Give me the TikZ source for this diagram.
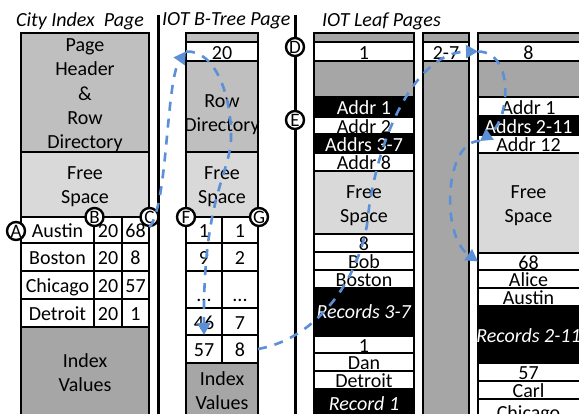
\documentclass[tikz,border=0pt]{standalone}
\usepackage{fontspec}
\setmainfont{Carlito}
\usetikzlibrary{arrows.meta}
\definecolor{hdr}{HTML}{BFBFBF}
\definecolor{dark}{HTML}{A6A6A6}
\definecolor{free}{HTML}{D9D9D9}
\definecolor{flow}{HTML}{5B8FD6}
\tikzset{
  cellbase/.style={draw=black,line width=2.7pt,inner sep=0pt,outer sep=0pt,anchor=north west,align=center,font=\fontsize{20}{24.3}\selectfont},
  wht/.style={cellbase,fill=white},
  blk/.style={cellbase,fill=black,text=white},
  hd/.style={cellbase,fill=hdr},
  dk/.style={cellbase,fill=dark},
  fr/.style={cellbase,fill=free},
  marker/.style={circle,draw=black,fill=white,line width=2.4pt,minimum size=18pt,inner sep=0pt,font=\fontsize{19}{19}\selectfont},
  pagetitle/.style={anchor=west,inner sep=0pt,font=\fontsize{20}{22}\selectfont\itshape},
  rail/.style={line width=3pt,draw=black},
  link/.style={draw=flow,line width=2.6pt,dash pattern=on 9pt off 8pt,-{Triangle[length=12pt,width=13pt,fill=flow]}}
}
\newcommand{\cbn}[8][8pt]{%
  \pgfmathsetmacro{\cbw}{#5-#3}\pgfmathsetmacro{\cbh}{#6-#4}%
  \node[#7,minimum width=\cbw pt,minimum height=\cbh pt] (#2) at (#3,#4) {\makebox[0pt][c]{\raisebox{-#1}[0pt][0pt]{\begin{tabular}{@{}c@{}}#8\end{tabular}}}};%
}
\begin{document}
\begin{tikzpicture}[x=1pt,y=-1pt]
\useasboundingbox (0,0) rectangle (579,414);
\clip (0,0) rectangle (579,414);
\fill[white] (0,0) rectangle (579,414);
% titles
\node[pagetitle] (t1) at (16,21) {City Index\ \ Page};
\node[pagetitle] (t2) at (162,21) {IOT B-Tree Page};
\node[pagetitle] (t3) at (322,21) {IOT Leaf Pages};
% rails
\coordinate (r1t) at (158,15); \coordinate (r1b) at (158,420);
\coordinate (r2t) at (295,15); \coordinate (r2b) at (295,420);
\draw[rail] (r1t) -- (r1b);
\draw[rail] (r2t) -- (r2b);
% city index page
\cbn{cHead}{21}{33}{149}{152}{hd}{Page\\Header\\\&\\Row\\Directory}
\cbn[7pt]{cFree}{21}{152}{149}{217}{fr}{Free\\Space}
\cbn{cA}{21}{217}{94}{243}{wht}{Austin}
\cbn{cAa}{94}{217}{122}{243}{wht}{20}
\cbn{cAb}{122}{217}{149}{243}{wht}{68}
\cbn{cB}{21}{243}{94}{271}{wht}{Boston}
\cbn{cBa}{94}{243}{122}{271}{wht}{20}
\cbn{cBb}{122}{243}{149}{271}{wht}{8}
\cbn{cC}{21}{271}{94}{299}{wht}{Chicago}
\cbn{cCa}{94}{271}{122}{299}{wht}{20}
\cbn{cCb}{122}{271}{149}{299}{wht}{57}
\cbn{cD}{21}{299}{94}{327}{wht}{Detroit}
\cbn{cDa}{94}{299}{122}{327}{wht}{20}
\cbn{cDb}{122}{299}{149}{327}{wht}{1}
\cbn[7pt]{cIdx}{21}{327}{149}{418}{dk}{Index\\Values}
% IOT b-tree page
\cbn{bTop}{186}{33}{258}{42}{hd}{}
\cbn{bNum}{186}{42}{258}{61}{wht}{20}
\cbn[13pt]{bDir}{186}{61}{258}{152}{hd}{Row\\Directory}
\cbn[7pt]{bFree}{186}{152}{258}{217}{fr}{Free\\Space}
\cbn{bKa}{186}{217}{222}{243}{wht}{1}
\cbn{bVa}{222}{217}{258}{243}{wht}{1}
\cbn{bKb}{186}{243}{222}{271}{wht}{9}
\cbn{bVb}{222}{243}{258}{271}{wht}{2}
\cbn[12pt]{bKc}{186}{271}{222}{308}{wht}{...}
\cbn[12pt]{bVc}{222}{271}{258}{308}{wht}{...}
\cbn{bKd}{186}{308}{222}{335}{wht}{46}
\cbn{bVd}{222}{308}{258}{335}{wht}{7}
\cbn{bKe}{186}{335}{222}{363}{wht}{57}
\cbn{bVe}{222}{335}{258}{363}{wht}{8}
\cbn[7pt]{bIdx}{186}{363}{258}{418}{dk}{Index\\Values}
% leaf 1
\cbn{aTop}{314}{33}{414}{42}{dk}{}
\cbn{aNum}{314}{42}{414}{61}{wht}{1}
\cbn{aGap}{314}{61}{414}{97}{dk}{}
\cbn{aAa}{314}{97}{414}{117}{blk}{Addr 1}
\cbn{aAb}{314}{117}{414}{134}{wht}{Addr 2}
\cbn{aAc}{314}{134}{414}{153}{blk}{Addrs 3-7}
\cbn{aAd}{314}{153}{414}{171}{wht}{Addr 8}
\cbn{aFree}{314}{171}{414}{234}{fr}{Free\\Space}
\cbn{aRa}{314}{234}{414}{252}{wht}{8}
\cbn{aRb}{314}{252}{414}{270}{wht}{Bob}
\cbn{aRc}{314}{270}{414}{288}{wht}{Boston}
\cbn[7pt]{aRd}{314}{288}{414}{336}{blk}{\textit{Records 3-7}}
\cbn{aRe}{314}{336}{414}{353}{wht}{1}
\cbn{aRf}{314}{353}{414}{371}{wht}{Dan}
\cbn{aRg}{314}{371}{414}{389}{wht}{Detroit}
\cbn[7pt]{aRh}{314}{389}{414}{418}{blk}{\textit{Record 1}}
% leaf 2-7
\cbn{mTop}{423}{33}{469}{42}{dk}{}
\cbn{mNum}{423}{42}{469}{61}{wht}{2-7}
\cbn{mBody}{423}{61}{469}{418}{dk}{}
% leaf 8
\cbn{zTop}{478}{33}{586}{42}{dk}{}
\cbn{zNum}{478}{42}{586}{61}{wht}{\hspace*{-7pt}8}
\cbn{zGap}{478}{61}{586}{97}{dk}{}
\cbn{zAa}{478}{97}{586}{116}{wht}{\hspace*{-7pt}Addr 1}
\cbn{zAb}{478}{116}{586}{135}{blk}{\hspace*{-7pt}Addrs 2-11}
\cbn{zAc}{478}{135}{586}{153}{wht}{\hspace*{-7pt}Addr 12}
\cbn{zFree}{478}{153}{586}{253}{fr}{\hspace*{-7pt}Free\\\hspace*{-7pt}Space}
\cbn{zRa}{478}{253}{586}{270}{wht}{\hspace*{-7pt}68}
\cbn{zRb}{478}{270}{586}{288}{wht}{\hspace*{-7pt}Alice}
\cbn{zRc}{478}{288}{586}{306}{wht}{\hspace*{-7pt}Austin}
\cbn{zRd}{478}{306}{586}{363}{blk}{\hspace*{-7pt}\textit{Records 2-11}}
\cbn{zRe}{478}{363}{586}{381}{wht}{\hspace*{-7pt}57}
\cbn{zRf}{478}{381}{586}{399}{wht}{\hspace*{-7pt}Carl}
\cbn{zRg}{478}{399}{586}{425}{wht}{\hspace*{-7pt}Chicago}
% markers
\node[marker] (A) at (16,231) {A};
\node[marker] (B) at (94.5,217) {B};
\node[marker] (C) at (149.5,217) {C};
\node[marker] (F) at (186,217) {F};
\node[marker] (G) at (259,217) {G};
\node[marker] (D) at (295,47) {D};
\node[marker] (E) at (295,120) {E};
% links
\draw[link] (C.south) .. controls (168,205) and (166,80) .. (bNum.west);
\coordinate (turn) at (231,140);
\draw[link] (bNum.west) .. controls (215,50) and (232,95) .. (turn) .. controls (229,175) and (203,200) .. (bKe.north);
\coordinate (bend) at (367,225);
\draw[link] (bVe.east) .. controls (310,340) and (355,290) .. (bend) .. controls (375,140) and (415,52) .. (zNum.west);
\coordinate (addrTip) at (480,141);
\draw[link] (zNum.west) .. controls (515,52) and (510,120) .. (addrTip);
\draw[link] (addrTip) .. controls (445,140) and (440,235) .. (zRa.west);
\end{tikzpicture}
\end{document}
